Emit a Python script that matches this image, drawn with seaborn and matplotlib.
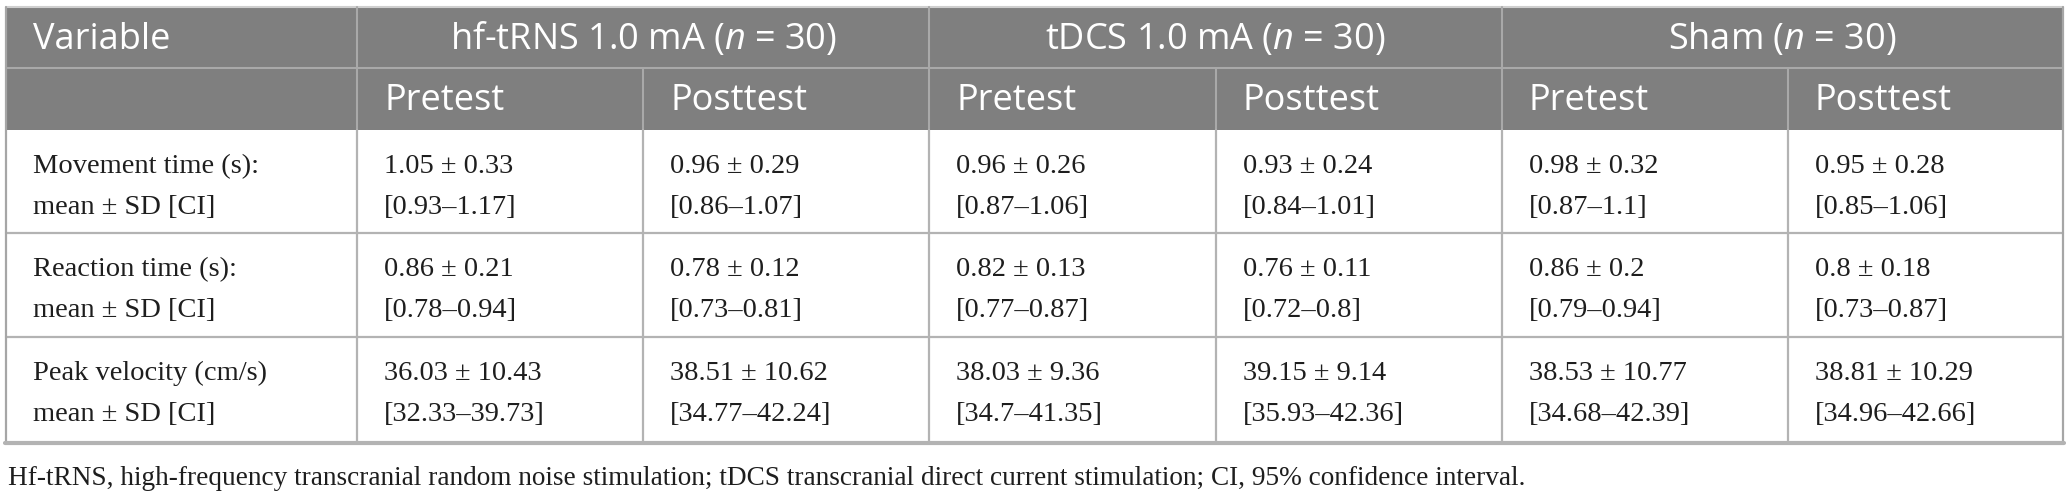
import matplotlib
matplotlib.use("Agg")
import matplotlib.pyplot as plt
import seaborn as sns

# Table data
groups = ["hf-tRNS 1.0 mA", "tDCS 1.0 mA", "Sham"]
group_n = [30, 30, 30]
phases = ["Pretest", "Posttest"]
variables = ["Movement time (s):", "Reaction time (s):", "Peak velocity (cm/s)"]
stat_label = "mean \u00b1 SD [CI]"

# one list per variable, ordered hf pre, hf post, tDCS pre, tDCS post, sham pre, sham post
movement_mean = [1.05, 0.96, 0.96, 0.93, 0.98, 0.95]
movement_sd = [0.33, 0.29, 0.26, 0.24, 0.32, 0.28]
movement_lo = [0.93, 0.86, 0.87, 0.84, 0.87, 0.85]
movement_hi = [1.17, 1.07, 1.06, 1.01, 1.1, 1.06]

reaction_mean = [0.86, 0.78, 0.82, 0.76, 0.86, 0.8]
reaction_sd = [0.21, 0.12, 0.13, 0.11, 0.2, 0.18]
reaction_lo = [0.78, 0.73, 0.77, 0.72, 0.79, 0.73]
reaction_hi = [0.94, 0.81, 0.87, 0.8, 0.94, 0.87]

velocity_mean = [36.03, 38.51, 38.03, 39.15, 38.53, 38.81]
velocity_sd = [10.43, 10.62, 9.36, 9.14, 10.77, 10.29]
velocity_lo = [32.33, 34.77, 34.7, 35.93, 34.68, 34.96]
velocity_hi = [39.73, 42.24, 41.35, 42.36, 42.39, 42.66]

footnote = ("Hf-tRNS, high-frequency transcranial random noise stimulation; "
            "tDCS transcranial direct current stimulation; CI, 95% confidence interval.")

rows = [
    (movement_mean, movement_sd, movement_lo, movement_hi),
    (reaction_mean, reaction_sd, reaction_lo, reaction_hi),
    (velocity_mean, velocity_sd, velocity_lo, velocity_hi),
]

sns.set_theme(style="white")
plt.rcParams["mathtext.fontset"] = "custom"
plt.rcParams["mathtext.rm"] = "Open Sans"
plt.rcParams["mathtext.it"] = "Open Sans:italic"

W, H = 2072, 497
fig = plt.figure(figsize=(W / 100, H / 100), dpi=100)
ax = fig.add_axes([0, 0, 1, 1])
ax.set_xlim(0, W)
ax.set_ylim(H, 0)
ax.axis("off")

# layout (pixels)
col_x = [6, 357, 643, 929, 1216, 1502, 1788, 2063]
row_y = [7, 68, 130, 233, 337, 443]
head_bg = "#7f7f7f"
head_line = "#a9a9a9"
body_line = "#b3b3b3"
text_col = "#1e1e1e"
sans = "Open Sans"
serif = "Liberation Serif"
head_fs = 26
body_fs = 20.5
pad = 27

# header background
ax.add_patch(plt.Rectangle((col_x[0], row_y[0]), col_x[-1] - col_x[0], row_y[2] - row_y[0],
                           facecolor=head_bg, edgecolor="none", zorder=1))

# header lines
ax.plot([col_x[0], col_x[-1]], [row_y[0], row_y[0]], color="#cfcfcf", lw=1.5, zorder=2)
ax.plot([col_x[0], col_x[-1]], [row_y[1], row_y[1]], color=head_line, lw=1.5, zorder=2)
for i, x in enumerate(col_x[1:-1]):
    top = row_y[0] if i % 2 == 0 else row_y[1]
    ax.plot([x, x], [top, row_y[2]], color=head_line, lw=1.5, zorder=2)

# body lines
for y in row_y[3:-1]:
    ax.plot([col_x[0], col_x[-1]], [y, y], color=body_line, lw=1.6, zorder=2)
for x in col_x[1:-1]:
    ax.plot([x, x], [row_y[2], row_y[-1]], color=body_line, lw=1.6, zorder=2)
ax.plot([col_x[0], col_x[0]], [row_y[0], row_y[-1]], color="#a6a6a6", lw=1.6, zorder=3)
ax.plot([col_x[-1], col_x[-1]], [row_y[0], row_y[-1]], color="#a6a6a6", lw=1.6, zorder=3)
ax.plot([col_x[0] - 1, col_x[-1] + 1], [row_y[-1], row_y[-1]], color=body_line, lw=3.0, zorder=3)

# header text
ax.text(col_x[0] + pad, row_y[0] + 42, "Variable", color="white", fontsize=head_fs,
        family=sans, va="baseline", ha="left", zorder=4)
for g, (name, n) in enumerate(zip(groups, group_n)):
    cx = (col_x[1 + 2 * g] + col_x[3 + 2 * g]) / 2
    ax.text(cx, row_y[0] + 42, f"{name} ($n$ = {n})", color="white", fontsize=head_fs,
            family=sans, va="baseline", ha="center", zorder=4)
    for p, ph in enumerate(phases):
        ax.text(col_x[1 + 2 * g + p] + pad, row_y[1] + 42, ph, color="white",
                fontsize=head_fs, family=sans, va="baseline", ha="left", zorder=4)

# body text
for r, (label, (m, sd, lo, hi)) in enumerate(zip(variables, rows)):
    top = row_y[2 + r]
    ax.text(col_x[0] + pad, top + 43, label, fontsize=body_fs, family=serif,
            color=text_col, va="baseline", zorder=4)
    ax.text(col_x[0] + pad, top + 84, stat_label, fontsize=body_fs, family=serif,
            color=text_col, va="baseline", zorder=4)
    for c in range(6):
        x = col_x[1 + c] + pad
        ax.text(x, top + 43, f"{m[c]} \u00b1 {sd[c]}", fontsize=body_fs, family=serif,
                color=text_col, va="baseline", zorder=4)
        ax.text(x, top + 84, f"[{lo[c]}\u2013{hi[c]}]", fontsize=body_fs, family=serif,
                color=text_col, va="baseline", zorder=4)

ax.text(col_x[0] + 2, 485, footnote, fontsize=19.6, family=serif, color=text_col,
        va="baseline", zorder=4)

fig.savefig("out.png", dpi=100, facecolor="white")
